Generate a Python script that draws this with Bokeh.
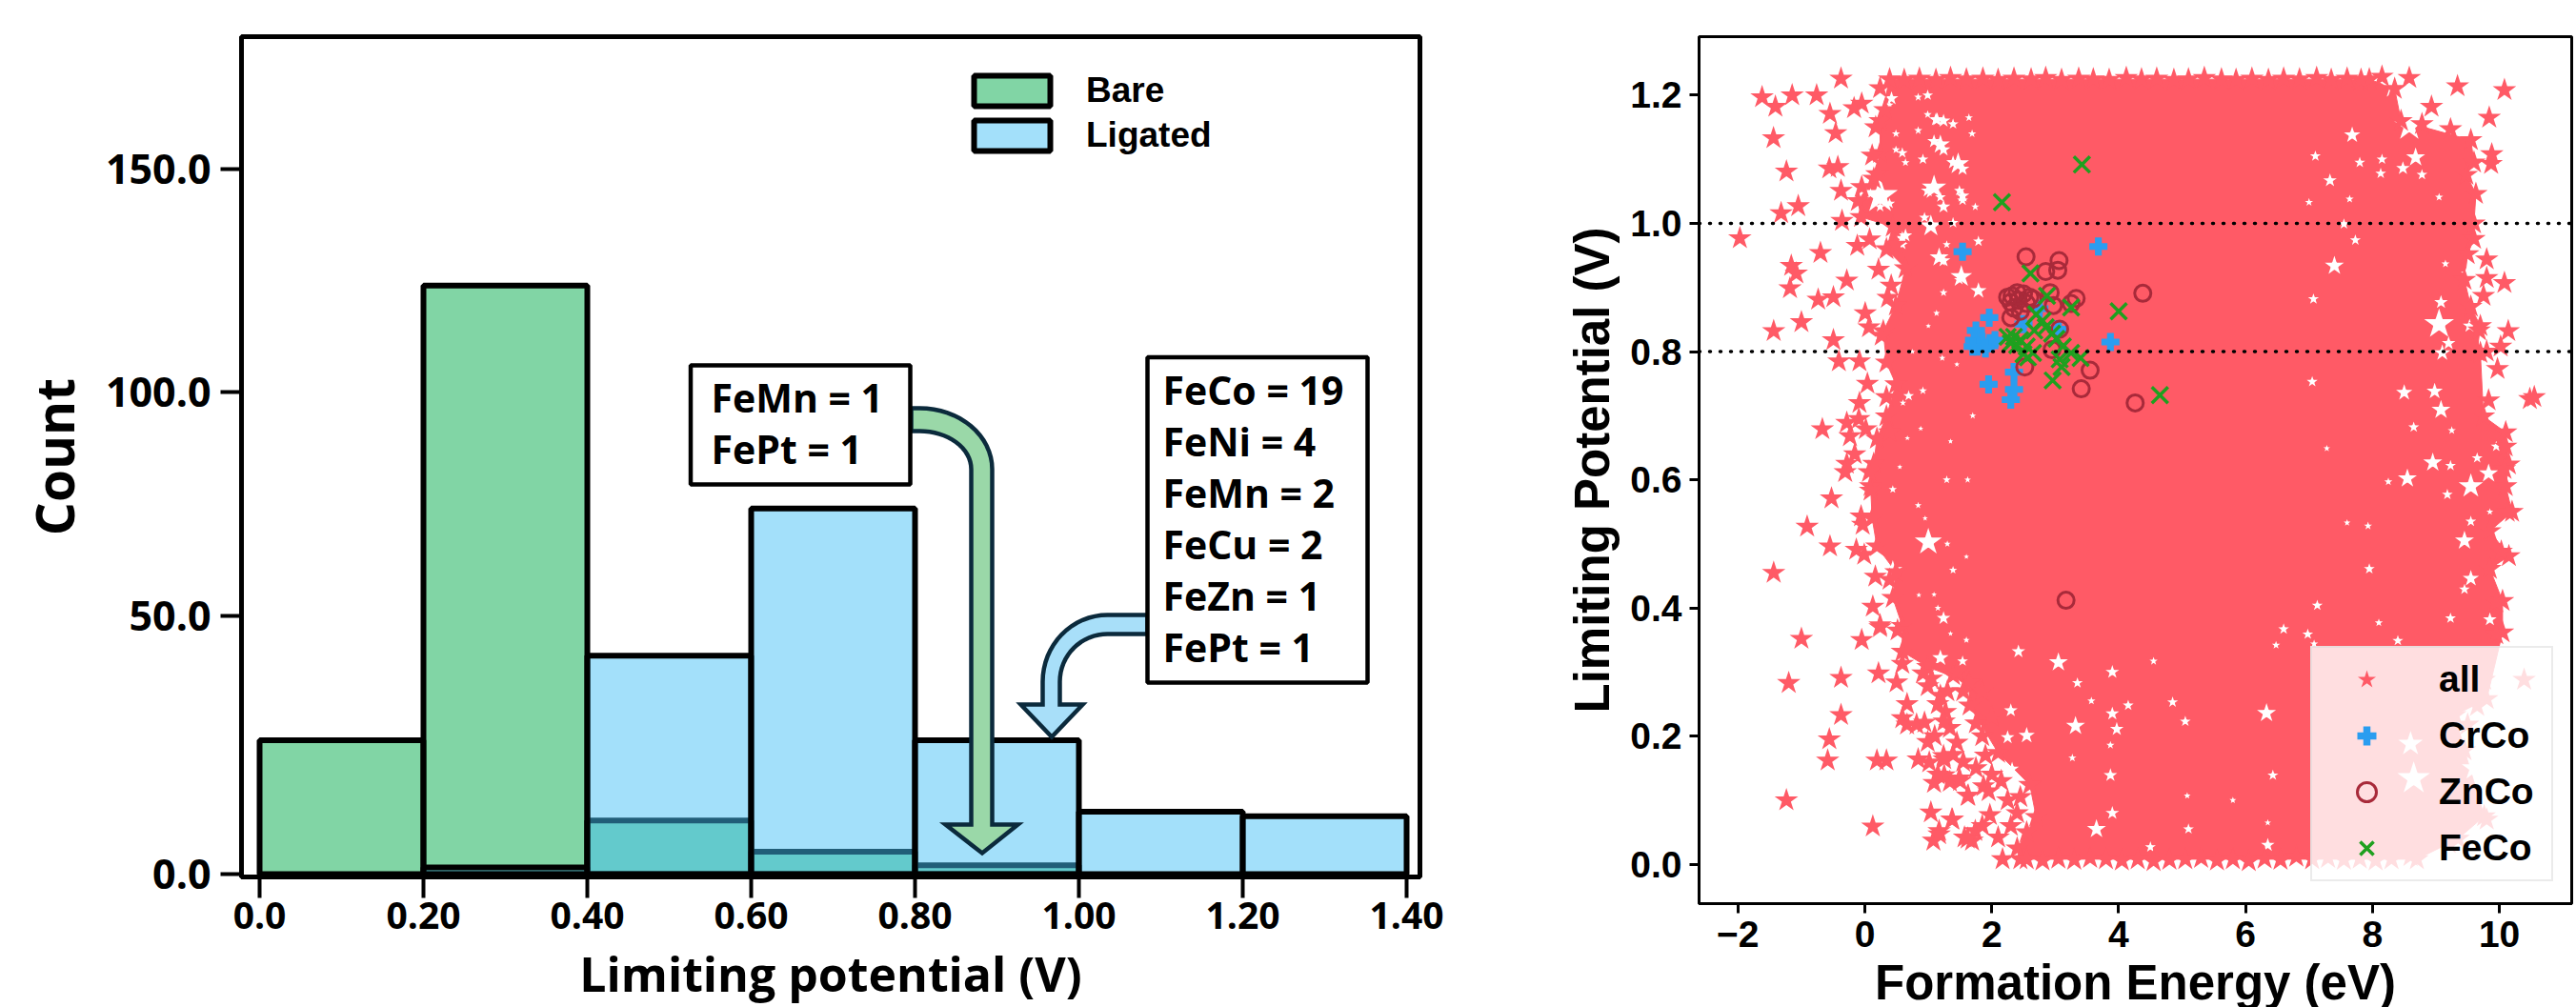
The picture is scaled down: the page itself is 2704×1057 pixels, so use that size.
import math
from bokeh.plotting import figure
from bokeh.layouts import row
from bokeh.embed import file_html
from bokeh.resources import INLINE
from bokeh.models import Legend, LegendItem, FixedTicker, Range1d, Span
from bokeh.core.properties import value

# ---------- left panel data ----------
bin_left = [0.0, 0.2, 0.4, 0.6, 0.8, 1.0, 1.2]
bin_right = [0.2, 0.4, 0.6, 0.8, 1.0, 1.2, 1.4]
bare_counts = [30, 132, 12, 5, 2, 0, 0]
ligated_counts = [0, 1.5, 49, 82, 30, 14, 13]
hist_x_ticks = [0.0, 0.2, 0.4, 0.6, 0.8, 1.0, 1.2, 1.4]
hist_x_labels = ["0.0", "0.20", "0.40", "0.60", "0.80", "1.00", "1.20", "1.40"]
hist_y_ticks = [0.1, 57.9, 108.1, 158.1]
hist_y_labels = ["0.0", "50.0", "100.0", "150.0"]
box1_lines = ["FeMn = 1", "FePt = 1"]
box2_lines = ["FeCo = 19", "FeNi = 4", "FeMn = 2", "FeCu = 2", "FeZn =  1", "FePt = 1"]

# ---------- right panel data ----------
core_x = [0.39,0.24,0.24,0.14,-0.11,-0.06,0.44,0.34,0.64,0.49,0.29,0.34,0.49,0.34,0.19,0.14,0.09,0.115,0.19,0.49,0.44,0.59,0.59,0.99,1.64,1.65,2.1,2.6,2.7,2.4,2.45,8.7,9.35,9.76,9.45,9.3,9.8,10.05,10.05,9.85,10.15,9.85,10.2,10.1,10.15,10.1,9.75,9.7,9.65,9.7,9.55,9.45,9.5,9.6,9.6,9.63,9.48,9.6,9.55,8.45,8.35,7.95]
core_y = [1.225,1.16,1.11,1.07,1.035,1.01,0.995,0.96,0.93,0.872,0.832,0.783,0.749,0.699,0.664,0.625,0.59,0.54,0.496,0.456,0.416,0.372,0.332,0.308,0.283,0.248,0.174,0.124,0.074,0.025,0.008,0.008,0.04,0.075,0.178,0.233,0.258,0.362,0.411,0.461,0.481,0.52,0.55,0.59,0.624,0.674,0.699,0.798,0.8,0.84,0.87,0.912,0.952,0.976,1.0,1.046,1.076,1.095,1.13,1.16,1.21,1.225]

top_edge_x = [0.62,0.86,1.12,1.35,1.6,1.86,2.1,2.35,2.62,2.85,3.1,3.37,3.6,3.85,4.12,4.36,4.6,4.87,5.1,5.35,5.62,5.85,6.1,6.36,6.6,6.85,7.12,7.35,7.6,7.82]
top_edge_y = [1.224,1.226,1.224,1.227,1.225,1.226,1.224,1.226,1.225,1.227,1.224,1.226,1.225,1.224,1.227,1.225,1.226,1.224,1.225,1.227,1.225,1.224,1.226,1.224,1.226,1.225,1.227,1.224,1.226,1.224]
bottom_edge_x = [2.55,2.8,3.05,3.3,3.55,3.8,4.05,4.3,4.55,4.8,5.05,5.3,5.55,5.8,6.05,6.3,6.55,6.8,7.05,7.3,7.55,7.8,8.05,8.3]
bottom_edge_y = [0.008,0.006,0.009,0.007,0.01,0.008,0.006,0.008,0.005,0.007,0.008,0.01,0.006,0.008,0.005,0.009,0.007,0.012,0.008,0.01,0.007,0.009,0.006,0.008]

stray_x = [-0.376,-1.62,-1.146,-0.76,-1.41,-0.55,-0.17,-0.05,0.24,-0.46,-1.44,0.315,0.17,0.115,-1.236,-0.56,-0.426,0.19,-0.376,-0.05,-1.05,-1.32,-0.36,-1.97,0.075,-0.12,-0.70,0.49,0.215,-1.16,-1.08,-1.18,-0.285,0.415,0.365,-0.736,-0.496,0.005,-1.0,-1.437,-0.496,0.065,0.265,
 -0.41,-0.085,0.04,-0.085,-0.67,-0.285,-0.095,-0.235,0.015,-0.16,-0.285,-0.31,0.065,0.09,-0.526,-0.06,-0.035,-0.91,-0.55,-0.135,-0.01,-1.437,0.165,0.39,0.125,0.24,0.39,0.34,
 -1.0,-0.05,0.24,0.515,-1.2,-0.376,0.215,0.5,-0.376,-0.56,-0.586,0.19,0.34,-1.237,0.125,0.665,0.59,0.665,0.815,0.94,0.99,0.84,1.015,1.24,1.39,1.09,1.34,1.49,1.63,1.04,1.38,1.17,1.08,1.57,1.69,1.74,0.915,0.99,0.59,1.39,1.19,1.27,1.34,1.87,
 1.37,1.62,1.97,2.1,2.17,1.17,1.62,1.25,1.25,1.95,2.4,1.25,
 10.08,9.34,9.84,9.88,9.87,9.23,8.93,8.78,8.58,8.15,9.8,9.8,10.08,9.75,10.14,10.02,9.68,9.8,
 9.97,10.48,10.55,9.83,10.1,10.08,10.13,10.03,9.95,9.95,
 10.39,9.76,9.65,9.5,9.8,9.2,8.6,
 1.05,1.15,1.3,1.45,1.55,1.75,1.85,1.9,1.75,2.0,2.15,2.25,2.45,2.3,1.5,1.15,1.45,1.55,1.85,2.55,1.1,2.0,1.85]
stray_y = [1.226,1.197,1.2,1.2,1.182,1.171,1.18,1.187,1.211,1.141,1.133,1.177,1.15,1.106,1.081,1.086,1.088,1.077,1.051,1.057,1.027,1.016,1.004,0.977,0.975,0.965,0.954,0.967,0.928,0.934,0.922,0.899,0.911,0.903,0.884,0.881,0.885,0.86,0.846,0.832,0.818,0.838,0.825,
 0.785,0.785,0.75,0.72,0.679,0.689,0.695,0.668,0.679,0.64,0.625,0.612,0.612,0.583,0.571,0.543,0.53,0.527,0.496,0.491,0.483,0.455,0.449,0.444,0.402,0.373,0.674,0.729,
 0.352,0.35,0.37,0.365,0.283,0.291,0.298,0.284,0.233,0.195,0.162,0.162,0.162,0.1,0.059,0.25,0.228,0.218,0.218,0.221,0.191,0.164,0.159,0.169,0.171,0.127,0.129,0.134,0.107,0.081,0.07,0.052,0.037,0.042,0.037,0.052,0.298,0.278,0.313,0.295,0.263,0.238,0.213,0.122,
 0.07,0.04,0.077,0.042,0.008,0.047,0.107,0.223,0.164,0.114,0.08,0.139,
 1.208,1.214,1.165,1.108,1.093,1.147,1.182,1.155,1.227,1.229,0.944,0.915,0.907,0.887,0.832,0.808,0.833,0.8,
 0.773,0.726,0.729,0.724,0.652,0.617,0.55,0.488,0.409,0.359,
 0.288,0.288,0.247,0.218,0.07,0.033,0.013,
 0.29,0.25,0.27,0.3,0.27,0.22,0.2,0.17,0.15,0.14,0.13,0.1,0.105,0.06,0.13,0.14,0.19,0.16,0.06,0.05,0.2,0.23,0.27]

gap_x = [0.24,1.09,1.19,1.47,0.915,1.54,1.24,1.04,0.59,1.17,1.52,1.79,1.14,0.84,1.64,0.42,1.24,1.79,
 1.0,0.44,0.69,0.915,1.29,0.44,0.84,1.24,1.39,1.09,0.67,1.19,1.54,
 2.42,3.05,3.35,3.57,3.9,3.9,4.15,3.97,3.32,2.3,2.55,2.25,3.87,3.27,3.87,2.32,3.9,3.65,4.5,5.1,5.05,4.85,4.55,5.08,5.8,6.33,6.43,6.35,6.35,6.48,
 8.33,8.58,8.68,7.68,7.33,8.15,7.8,8.13,8.48,8.78,7.1,9.05,7.0,7.64,7.73,7.4,7.07,9.15,9.48,9.63,9.08,9.05,9.53,9.2,9.1,7.55,
 7.05,8.5,8.98,9.08,8.65,9.25,8.95,9.23,8.55,9.55,9.83,9.95,9.18,9.45,9.85,9.55,7.6,7.93,9.55,9.45,7.95,7.13,9.23,9.85,6.6,6.98,7.08,8.4,8.1,7.28,8.25,9.65,
 8.6,8.65,9.6,9.7,
 0.99,1.12,1.24,1.39,1.69,1.09,1.24,1.39,1.54,0.59,0.49,0.64,0.99,1.19,1.49,1.54,0.94,1.39,1.74,0.64,0.59,1.24,1.49,1.29,0.84,0.99,0.39,0.49,0.09,0.39,0.24,
 1.13,1.0,1.22,0.75,0.6,1.45,0.88,1.7,1.35,1.62,0.55,0.95,1.3,1.6,0.85,1.15,1.35,1.6]
gap_y = [1.043,1.056,1.123,1.093,1.1,1.043,1.026,0.996,0.977,0.947,0.917,0.895,1.162,1.197,1.165,1.195,0.892,0.972,
 0.503,0.459,0.731,0.739,0.6,0.585,0.56,0.384,0.459,0.421,0.665,0.322,0.317,
 0.332,0.315,0.283,0.255,0.3,0.235,0.248,0.211,0.216,0.24,0.201,0.198,0.186,0.166,0.139,0.149,0.08,0.055,0.027,0.055,0.223,0.253,0.317,0.107,0.1,0.236,0.139,0.03,0.065,0.342,
 1.212,1.152,1.103,1.138,1.067,1.1,1.095,1.078,1.086,1.076,1.105,1.041,1.033,1.038,0.974,0.934,0.882,0.937,0.922,0.905,0.877,0.843,0.84,0.813,0.798,0.999,
 0.753,0.736,0.738,0.709,0.682,0.677,0.627,0.622,0.602,0.59,0.61,0.652,0.577,0.505,0.55,0.535,0.533,0.528,0.446,0.429,0.461,0.404,0.384,0.382,0.367,0.359,0.344,0.349,0.377,0.649,0.597,0.634,
 0.188,0.134,0.15,0.19,
 1.2,1.162,1.16,1.155,1.14,1.128,1.115,1.095,1.085,1.11,1.115,1.095,1.051,1.041,1.051,1.036,1.009,1.001,1.026,0.981,0.967,0.942,0.912,0.967,1.145,1.17,1.185,1.14,1.046,1.031,1.026,
 0.86,0.84,0.79,0.8,0.72,0.78,0.68,0.7,0.66,0.6,0.62,0.54,0.5,0.48,0.42,0.4,0.36,0.35]
gap_w = [26,18,14,16,8,10,10,16,10,14,16,12,10,6,6,10,6,8,
 20,14,8,6,6,6,5,10,6,4,4,12,8,
 10,14,8,6,10,10,8,10,14,10,12,10,6,6,10,10,10,14,8,8,8,8,6,5,5,14,8,10,5,6,
 16,22,14,12,10,8,8,8,10,8,8,6,6,6,8,14,8,6,8,14,10,22,10,10,12,8,
 8,12,12,14,8,6,14,8,14,18,14,8,8,14,5,8,5,6,12,8,8,8,8,10,8,8,6,8,6,5,6,8,
 18,24,18,14,
 8,10,10,8,6,10,10,10,10,8,6,6,10,8,8,8,8,8,6,10,8,10,8,6,6,6,6,6,8,8,8,
 5,4,5,4,5,4,4,5,4,5,4,4,5,4,4,5,4,5]

crco_x = [1.54,3.68,1.96,1.75,1.72,1.85,1.77,1.97,2.05,1.7,1.9,3.87,1.95,2.35,2.35,2.3,2.75,2.5,3.05]
crco_y = [0.956,0.964,0.853,0.833,0.818,0.815,0.808,0.813,0.818,0.808,0.805,0.815,0.749,0.768,0.741,0.725,0.867,0.843,0.835]
znco_x = [2.54,3.06,2.85,3.04,2.92,3.33,4.38,3.25,2.97,2.32,2.4,2.5,2.6,2.3,2.42,2.55,2.35,2.45,2.3,2.25,2.65,3.07,2.52,3.55,3.41,4.26,2.95,3.17]
znco_y = [0.948,0.942,0.925,0.927,0.892,0.883,0.891,0.875,0.872,0.887,0.892,0.89,0.885,0.877,0.88,0.875,0.868,0.863,0.853,0.885,0.882,0.835,0.776,0.771,0.742,0.72,0.803,0.412]
feco_x = [2.16,3.42,2.61,2.87,3.25,4.0,4.65,2.96,3.1,3.07,3.4,3.25,3.12,2.25,2.35,2.45,2.3,2.4,2.5,2.57,2.65,2.67,2.8,2.85,2.7,2.95,3.02,2.55]
feco_y = [1.033,1.092,0.922,0.887,0.869,0.863,0.732,0.755,0.776,0.788,0.79,0.798,0.808,0.823,0.823,0.818,0.813,0.81,0.796,0.791,0.798,0.833,0.848,0.838,0.858,0.828,0.82,0.808]
guide_levels = [0.8, 1.0]
fe_x_ticks = [-2, 0, 2, 4, 6, 8, 10]
fe_y_ticks = [0.0, 0.2, 0.4, 0.6, 0.8, 1.0, 1.2]

SANS = "Open Sans"
ARIAL = "Liberation Sans"
STAR = "#FF5A66"

# ---------- left panel ----------
X = lambda px: (px - 272) / 860
Y = lambda py: (916 - py) / 4.68

p1 = figure(width=1600, height=1057, frame_width=1237, frame_height=882,
            x_range=Range1d(X(253), X(1490)), y_range=Range1d(Y(919), Y(37)),
            min_border_left=253, min_border_right=110, min_border_top=37, min_border_bottom=138,
            output_backend="svg", toolbar_location=None)
p1.background_fill_color = "white"
p1.grid.visible = False
p1.outline_line_color = "black"
p1.outline_line_width = 5

def keep(vals):
    return [i for i, v in enumerate(vals) if v > 0]

ib = keep(bare_counts)
il = keep(ligated_counts)
r_bare = p1.quad(left=[bin_left[i] for i in ib], right=[bin_right[i] for i in ib],
                 bottom=0, top=[bare_counts[i] for i in ib],
                 fill_color="#03AB4B", fill_alpha=0.5, line_color="black", line_width=6)
r_lig = p1.quad(left=[bin_left[i] for i in il], right=[bin_right[i] for i in il],
                bottom=0, top=[ligated_counts[i] for i in il],
                fill_color="#43C0F5", fill_alpha=0.49, line_color="black", line_width=6)

p1.xaxis.ticker = FixedTicker(ticks=hist_x_ticks)
p1.xaxis.major_label_overrides = dict(zip(hist_x_ticks, hist_x_labels))
p1.yaxis.ticker = FixedTicker(ticks=hist_y_ticks)
p1.yaxis.major_label_overrides = dict(zip(hist_y_ticks, hist_y_labels))
p1.axis.axis_line_color = "black"
p1.axis.axis_line_width = 5
p1.axis.major_tick_line_color = "black"
p1.axis.major_tick_line_width = 4
p1.axis.major_tick_out = 22
p1.axis.major_tick_in = 0
p1.axis.minor_tick_line_color = None
p1.xaxis.major_label_text_font = SANS
p1.yaxis.major_label_text_font = SANS
p1.xaxis.major_label_text_font_style = "bold"
p1.yaxis.major_label_text_font_style = "bold"
p1.xaxis.major_label_text_font_size = "39px"
p1.yaxis.major_label_text_font_size = "43px"
p1.xaxis.major_label_text_color = "black"
p1.yaxis.major_label_text_color = "black"
p1.xaxis.major_label_standoff = 4
p1.yaxis.major_label_standoff = 10
p1.xaxis.axis_label = "Limiting potential (V)"
p1.yaxis.axis_label = "Count"
for ax in (p1.xaxis[0], p1.yaxis[0]):
    ax.axis_label_text_font = SANS
    ax.axis_label_text_font_style = "bold"
    ax.axis_label_text_color = "black"
p1.xaxis.axis_label_text_font_size = "50px"
p1.yaxis.axis_label_text_font_size = "55px"
p1.xaxis.axis_label_standoff = 10
p1.yaxis.axis_label_standoff = 14

def bend_arrow(cx, cy, rxo, ryo, rxi, ryi, start_x, end_y, head_l, head_r, tip, side):
    """Outline of a bent arrow drawn in page pixels; side=+1 bends right-to-down from left start."""
    n = 16
    outer = [(cx + side * rxo * math.sin(math.pi / 2 * k / n), cy - ryo * math.cos(math.pi / 2 * k / n)) for k in range(n + 1)]
    inner = [(cx + side * rxi * math.sin(math.pi / 2 * k / n), cy - ryi * math.cos(math.pi / 2 * k / n)) for k in range(n + 1)]
    pts = [(start_x, cy - ryo)] + outer + [(cx + side * rxo, end_y), (head_r if side > 0 else head_l, end_y), tip,
           (head_l if side > 0 else head_r, end_y), (cx + side * rxi, end_y)] + inner[::-1] + [(start_x, cy - ryi)]
    return [X(a) for a, b in pts], [Y(b) for a, b in pts]

ax_, ay_ = bend_arrow(965, 491, 76, 64, 54, 40, 956, 864, 992, 1068, (1030.5, 894), 1)
p1.patch(ax_, ay_, fill_color="#9AD8A8", line_color="#0B2A3C", line_width=4.5, line_join="miter")
ax_, ay_ = bend_arrow(1162, 714, 68, 70, 50, 50, 1204, 738, 1071, 1136, (1103.5, 772), -1)
p1.patch(ax_, ay_, fill_color="#A8DFF9", line_color="#0B2A3C", line_width=4.5, line_join="miter")

for l, r, t, b in ((724.5, 955, 382, 507), (1204, 1435, 373.5, 715)):
    p1.quad(left=[X(l)], right=[X(r)], top=[Y(t)], bottom=[Y(b)],
            fill_color="white", line_color="black", line_width=4.5)

def lines(txts, left, ys):
    p1.text(x=[X(left)] * len(txts), y=[Y(v) for v in ys], text=txts, text_font=value(SANS),
            text_font_style="bold", text_font_size="41px", text_color="black",
            text_baseline="middle", text_align="left")

lines(box1_lines, 746, [415, 469])
lines(box2_lines, 1220, [407.5, 461, 515, 569, 623, 677.5])

leg1 = Legend(items=[LegendItem(label="Bare", renderers=[r_bare]),
                     LegendItem(label="Ligated", renderers=[r_lig])],
              location=(759, 757), orientation="vertical", background_fill_alpha=0,
              border_line_color=None, padding=0, margin=0, spacing=5,
              glyph_width=100, glyph_height=40, label_standoff=28, label_height=40,
              label_text_font=ARIAL, label_text_font_style="bold",
              label_text_font_size="37px", label_text_color="black")
p1.add_layout(leg1, "center")

# ---------- right panel ----------
p2 = figure(width=1104, height=1057, frame_width=916, frame_height=910,
            x_range=Range1d(-2.613, 11.14), y_range=Range1d(-0.0613, 1.2914),
            min_border_left=183, min_border_right=5, min_border_top=38, min_border_bottom=109,
            output_backend="svg", toolbar_location=None)
p2.grid.visible = False
p2.outline_line_color = "black"
p2.outline_line_width = 3

p2.patch(core_x, core_y, fill_color=STAR, line_color=STAR, line_width=1)
all_x = core_x + top_edge_x + bottom_edge_x + stray_x
all_y = core_y + top_edge_y + bottom_edge_y + stray_y
p2.scatter(gap_x, gap_y, size=[w * 0.6 for w in gap_w], marker="circle", fill_color="white", line_color=None)
p2.scatter(gap_x, gap_y, size=[w * 1.5 for w in gap_w], marker="star", fill_color="white", line_color=None)
r_all = p2.scatter(all_x, all_y, size=26, marker="star", fill_color=STAR, line_color=None)
r_cr = p2.scatter(crco_x, crco_y, size=19, marker="plus", fill_color="#2A9DF0", line_color=None)
r_zn = p2.scatter(znco_x, znco_y, size=17, marker="circle", fill_color=None, line_color="#A82A3A", line_width=3)
r_fe = p2.scatter(feco_x, feco_y, size=24, marker="x", line_color="#1FA01F", line_width=3.5)
for lv in guide_levels:
    p2.add_layout(Span(location=lv, dimension="width", line_color="black", line_width=3.5,
                       line_dash="1 10", line_cap="round"))

p2.xaxis.ticker = FixedTicker(ticks=fe_x_ticks)
p2.xaxis.major_label_overrides = {v: str(v).replace("-", "\u2212") for v in fe_x_ticks}
p2.yaxis.ticker = FixedTicker(ticks=fe_y_ticks)
p2.yaxis.major_label_overrides = {v: "%.1f" % v for v in fe_y_ticks}
p2.axis.axis_line_color = "black"
p2.axis.axis_line_width = 3
p2.axis.major_tick_line_color = "black"
p2.axis.major_tick_line_width = 3
p2.axis.major_tick_out = 10
p2.axis.major_tick_in = 0
p2.axis.minor_tick_line_color = None
for ax in (p2.xaxis[0], p2.yaxis[0]):
    ax.major_label_text_font = ARIAL
    ax.major_label_text_font_style = "bold"
    ax.major_label_text_font_size = "39px"
    ax.major_label_text_color = "black"
    ax.axis_label_text_font = ARIAL
    ax.axis_label_text_font_style = "bold"
    ax.axis_label_text_font_size = "51px"
    ax.axis_label_text_color = "black"
p2.yaxis.major_label_standoff = 8
p2.xaxis.major_label_standoff = 8
p2.xaxis.axis_label = "Formation Energy (eV)"
p2.yaxis.axis_label = "Limiting Potential (V)"
p2.xaxis.axis_label_standoff = 6
p2.yaxis.axis_label_standoff = 8

leg2 = Legend(items=[LegendItem(label="all", renderers=[r_all]),
                     LegendItem(label="CrCo", renderers=[r_cr]),
                     LegendItem(label="ZnCo", renderers=[r_zn]),
                     LegendItem(label="FeCo", renderers=[r_fe])],
              location=(642, 23), orientation="vertical", background_fill_color="white",
              background_fill_alpha=0.8, border_line_color="#D8D8D8", border_line_width=2,
              padding=8, margin=0, spacing=9, glyph_width=98, glyph_height=50,
              label_standoff=27, label_height=50, label_width=110,
              label_text_font=ARIAL, label_text_font_style="bold",
              label_text_font_size="39px", label_text_color="black")
p2.add_layout(leg2, "center")

page = row(p1, p2, spacing=0)
open("out.html", "w").write(file_html(page, INLINE))
